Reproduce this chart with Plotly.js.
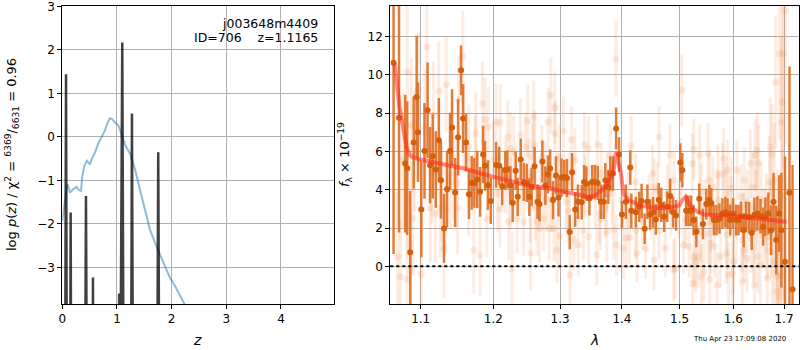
<!DOCTYPE html>
<html>
<head>
<meta charset="utf-8">
<script src="https://cdn.plot.ly/plotly-3.0.1.min.js"></script>
<style>html,body{margin:0;padding:0;background:#fff;}#chart{width:800px;height:350px;}</style>
</head>
<body>
<div id="chart"></div>
<script>
// ---- left panel: p(z) ----
const zGrid = [0.000,0.045,0.068,0.090,0.135,0.153,0.170,0.405,0.433,0.460,0.545,0.561,0.577,1.020,1.040,1.062,1.097,1.130,1.250,1.274,1.300,1.725,1.755,1.785,4.970];
const logpFit = [-9,-9,1.44,-9,-9,-1.74,-9,-9,-1.36,-9,-9,-3.23,-9,-9,-3.6,-6,2.17,-9,-9,0.54,-9,-9,-0.35,-9,-9];
const zPrior = [0.000,0.037,0.080,0.099,0.141,0.201,0.263,0.305,0.342,0.366,0.402,0.452,0.506,0.537,0.598,0.658,0.720,0.781,0.829,0.872,0.914,0.963,1.024,1.086,1.159,1.238,1.329,1.420,1.512,1.603,1.695,1.786,1.877,1.969,2.060,2.150,2.225,2.300];
const logpPrior = [-1.94,-1.51,-1.17,-1.09,-1.28,-1.20,-1.15,-1.22,-1.24,-0.90,-0.67,-0.55,-0.63,-0.51,-0.36,-0.15,-0.01,0.15,0.33,0.43,0.41,0.33,0.27,0.06,-0.21,-0.38,-0.74,-1.21,-1.70,-2.13,-2.43,-2.70,-3.01,-3.24,-3.42,-3.62,-3.82,-4.05];
const zTicks = [0,1,2,3,4];
const logpTicks = [-3,-2,-1,0,1,2,3];

// ---- right panel: spectrum ----
const solidLam = [1.0648,1.0718,1.0797,1.0823,1.0863,1.0908,1.0947,1.0964,1.1008,1.1050,
1.1091,1.1124,1.1160,1.1201,1.1242,1.1270,1.1311,1.1353,1.1394,1.1421,
1.1463,1.1504,1.1545,1.1573,1.1614,1.1655,1.1693,1.1730,1.1771,1.1812,
1.1854,1.1881,1.1923,1.1964,1.2040,1.2085,1.2129,1.2174,1.2203,1.2248,
1.2282,1.2326,1.2356,1.2401,1.2445,1.2490,1.2530,1.2564,1.2608,1.2653,
1.2683,1.2727,1.2772,1.2812,1.2846,1.2890,1.2935,1.2975,1.3021,1.3065,
1.3107,1.3151,1.3188,1.3237,1.3281,1.3341,1.3378,1.3415,1.3464,1.3508,
1.3552,1.3600,1.3649,1.3698,1.3724,1.3773,1.3805,1.3849,1.3902,1.3951,
1.4000,1.4065,1.4140,1.4158,1.4235,1.4293,1.4333,1.4386,1.4433,1.4481,
1.4533,1.4579,1.4631,1.4674,1.4726,1.4779,1.4831,1.4884,1.4937,1.5013,
1.5050,1.5119,1.5161,1.5211,1.5254,1.5305,1.5359,1.5426,1.5489,1.5544,
1.5582,1.5630,1.5680,1.5735,1.5791,1.5846,1.5889,1.5939,1.5994,1.6053,
1.6099,1.6146,1.6197,1.6245,1.6304,1.6355,1.6408,1.6467,1.6527,1.6580,
1.6625,1.6684,1.6738,1.6789,1.6842,1.6901,1.6947,1.7020,1.7112,1.7175];
const solidFlux = [10.64,7.77,5.37,5.13,0.73,6.47,8.85,7.00,2.97,6.03,
8.15,5.28,5.75,5.06,6.59,4.50,1.98,4.03,6.03,7.25,
3.86,6.74,10.24,7.72,6.47,3.77,4.36,4.36,4.54,3.89,
5.84,5.25,4.24,3.41,5.30,5.25,4.19,5.02,5.06,4.24,
3.32,4.99,3.63,5.58,4.41,4.36,3.63,4.15,5.23,3.37,
3.25,5.48,4.22,4.81,5.11,3.46,4.75,3.60,4.64,4.67,
4.61,1.79,4.92,2.97,3.37,3.35,4.40,4.33,3.55,4.40,
4.41,4.36,3.37,3.37,4.50,4.15,4.85,4.85,7.20,5.84,
2.71,3.37,5.16,2.90,2.83,3.11,3.41,1.96,3.37,2.71,
2.82,2.45,3.46,3.21,2.59,3.11,3.67,2.83,2.66,5.43,
5.02,2.90,2.90,2.90,2.42,1.80,3.53,2.21,3.25,3.46,
3.29,2.42,2.42,2.50,2.76,2.83,2.76,2.42,2.76,2.42,
2.42,2.59,1.89,2.59,2.56,1.75,2.69,2.76,2.62,2.07,
2.59,2.76,1.89,3.37,1.37,2.76,1.89,0.24,3.84,-1.20];
const solidErr = [10.0,6.0,3.6,3.5,3.2,2.4,3.2,2.6,2.5,2.5,
2.5,2.0,2.2,2.0,2.2,2.0,1.8,2.0,2.0,2.0,
1.8,2.0,1.3,1.8,1.5,1.3,1.4,1.3,1.5,1.3,
1.5,1.3,1.3,1.2,1.2,1.0,1.0,1.0,1.0,1.0,
1.0,1.0,1.0,1.1,1.0,1.0,1.0,1.0,1.0,0.9,
0.9,1.1,1.0,1.0,1.0,1.0,1.0,1.0,1.0,0.9,
1.0,0.9,1.0,0.9,0.9,0.9,0.9,0.9,0.9,0.9,
0.9,0.9,0.9,0.9,0.9,0.9,0.9,0.9,1.1,0.9,
0.7,0.9,0.9,0.9,0.8,0.8,0.9,0.8,0.9,0.8,
0.8,0.8,0.9,0.9,0.8,0.8,0.9,0.8,0.8,1.0,
0.9,0.8,0.8,0.8,0.8,0.8,0.8,0.8,0.8,0.8,
0.8,0.8,0.8,0.8,0.8,0.8,0.8,0.8,0.8,0.8,
0.8,0.8,0.9,0.8,0.8,0.9,0.9,0.9,0.9,1.0,
1.0,1.1,1.3,1.5,1.8,2.0,3.0,5.5,6.6,6.5];

const faintLam = [1.0700,1.0736,1.0766,1.0822,1.0823,1.0832,1.0868,1.0876,1.0898,1.0921,
1.0971,1.1008,1.1055,1.1080,1.1128,1.1146,1.1169,1.1193,1.1241,1.1262,
1.1284,1.1311,1.1335,1.1341,1.1399,1.1445,1.1490,1.1496,1.1511,1.1569,
1.1582,1.1651,1.1648,1.1723,1.1744,1.1752,1.1810,1.1844,1.1881,1.1909,
1.1927,1.2000,1.2040,1.2059,1.2099,1.2095,1.2174,1.2208,1.2223,1.2248,
1.2252,1.2273,1.2297,1.2347,1.2396,1.2400,1.2445,1.2470,1.2505,1.2519,
1.2545,1.2549,1.2570,1.2594,1.2608,1.2619,1.2644,1.2683,1.2693,1.2718,
1.2742,1.2767,1.2782,1.2816,1.2831,1.2856,1.2867,1.2905,1.2916,1.2920,
1.2950,1.2965,1.2990,1.2993,1.3054,1.3097,1.3123,1.3151,1.3155,1.3179,
1.3216,1.3232,1.3286,1.3367,1.3383,1.3394,1.3448,1.3452,1.3562,1.3584,
1.3594,1.3626,1.3643,1.3654,1.3724,1.3747,1.3751,1.3805,1.3833,1.3860,
1.3898,1.3909,1.3995,1.4025,1.4077,1.4112,1.4130,1.4156,1.4228,1.4232,
1.4253,1.4346,1.4403,1.4463,1.4521,1.4547,1.4551,1.4609,1.4635,1.4638,
1.4744,1.4784,1.4828,1.4842,1.4895,1.4902,1.4919,1.4989,1.5019,1.5041,
1.5074,1.5111,1.5174,1.5235,1.5238,1.5259,1.5267,1.5291,1.5333,1.5365,
1.5383,1.5396,1.5399,1.5444,1.5457,1.5519,1.5522,1.5550,1.5553,1.5569,
1.5572,1.5611,1.5643,1.5693,1.5704,1.5707,1.5754,1.5796,1.5815,1.5859,
1.5862,1.5878,1.5889,1.5907,1.5952,1.5955,1.5982,1.6000,1.6047,1.6067,
1.6146,1.6166,1.6169,1.6197,1.6211,1.6214,1.6264,1.6276,1.6329,1.6343,
1.6375,1.6394,1.6408,1.6422,1.6442,1.6461,1.6473,1.6487,1.6527,1.6540,
1.6592,1.6639,1.6659,1.6662,1.6704,1.6724,1.6738,1.6757,1.6760,1.6803,
1.6806,1.6832,1.6856,1.6868,1.6871,1.6911,1.6921,1.6924,1.6947,1.6966,
1.6969,1.6986,1.7031];
const faintFlux = [0.50,-0.54,5.55,-0.67,10.15,3.46,-0.19,7.37,2.50,6.07,
9.24,-0.40,7.28,11.46,3.03,4.85,7.89,2.76,9.15,3.03,
3.76,0.94,3.03,9.49,4.41,4.76,4.36,3.03,8.71,10.97,
7.23,6.24,3.81,0.85,5.72,6.94,0.59,8.50,7.67,2.47,
7.28,5.55,7.54,3.81,7.51,2.99,4.67,6.76,2.33,6.16,
3.81,-0.16,5.98,2.47,6.89,4.41,2.33,6.24,7.60,4.85,
3.03,0.68,5.72,7.80,6.33,3.11,2.33,1.98,3.81,5.69,
2.50,4.85,3.50,7.54,1.98,8.94,3.46,1.98,8.29,6.94,
0.85,4.15,5.72,1.58,7.06,3.37,2.90,4.41,-0.45,6.62,
1.37,5.55,1.11,1.89,6.36,4.15,6.16,1.54,3.63,0.59,
6.36,2.76,2.45,4.85,3.11,1.80,4.41,5.80,3.81,1.93,
10.85,1.11,3.46,0.94,1.46,3.46,1.49,6.30,4.41,1.89,
0.68,2.33,0.94,3.29,4.85,0.33,4.15,3.98,6.76,1.89,
0.94,3.81,5.80,3.11,-0.19,4.50,-0.10,2.94,5.11,9.20,
1.11,2.42,1.02,5.37,-0.89,6.10,0.50,0.24,0.50,5.80,
1.80,3.89,-0.54,-0.28,2.94,5.89,1.72,4.50,-0.68,2.33,
1.20,4.15,1.02,-0.98,4.76,3.46,0.50,4.85,5.63,3.81,
0.68,1.63,5.02,-0.45,4.07,3.11,-0.37,0.24,1.72,5.02,
3.63,1.37,-0.80,2.15,4.50,0.85,0.42,3.37,5.37,1.46,
4.15,1.02,-0.98,5.80,3.11,6.07,0.50,5.40,0.07,3.46,
1.98,2.76,1.54,-0.63,4.41,6.24,1.89,5.86,0.76,4.50,
0.24,9.62,-1.32,1.54,-0.54,11.11,-0.45,-1.59,7.54,8.59,
-1.24,11.11,13.40];
const faintErr = [3.5,3.0,3.5,3.2,3.8,3.0,3.2,3.5,3.0,3.2,
3.0,3.0,3.0,2.6,2.8,2.6,2.8,2.6,2.6,2.6,
2.5,2.6,2.4,2.5,2.4,2.3,2.3,2.4,2.3,2.4,
2.3,2.2,2.2,2.3,2.2,2.2,2.2,2.2,2.2,2.0,
2.1,2.0,2.0,2.0,2.0,2.0,1.9,1.9,2.0,1.9,
1.9,2.0,1.9,1.8,1.9,1.8,1.8,1.8,1.9,1.8,
1.8,1.9,1.8,1.9,1.8,1.7,1.8,1.8,1.7,1.7,
1.7,1.7,1.7,1.8,1.7,2.0,1.7,1.7,1.9,1.7,
1.7,1.6,1.7,1.7,1.8,1.6,1.6,1.6,1.7,1.7,
1.6,1.7,1.6,1.6,1.7,1.6,1.7,1.6,1.6,1.6,
1.6,1.6,1.6,1.6,1.6,1.6,1.6,1.6,1.6,1.6,
2.0,1.6,1.6,1.6,1.6,1.5,1.6,1.6,1.5,1.5,
1.5,1.5,1.6,1.5,1.5,1.6,1.5,1.5,1.6,1.5,
1.5,1.5,1.6,1.5,1.6,1.5,1.6,1.5,1.6,1.9,
1.5,1.5,1.6,1.6,1.7,1.6,1.6,1.6,1.6,1.6,
1.6,1.5,1.7,1.6,1.6,1.6,1.6,1.6,1.7,1.6,
1.6,1.6,1.6,1.7,1.6,1.6,1.6,1.6,1.6,1.6,
1.6,1.6,1.6,1.7,1.6,1.6,1.7,1.7,1.6,1.6,
1.7,1.7,1.8,1.7,1.7,1.7,1.8,1.7,1.8,1.8,
1.8,1.8,1.9,1.9,1.9,2.0,1.9,2.0,2.0,2.0,
2.1,2.1,2.2,2.3,2.4,2.6,2.5,2.6,2.7,3.0,
3.0,3.5,3.5,3.5,3.6,4.5,4.0,4.0,4.5,5.0,
5.0,6.0,7.0];

const modelLam = [1.0661,1.0680,1.0725,1.0769,1.0813,1.0858,1.0900,1.0990,1.1270,1.1590,1.1820,1.2000,1.2250,1.2550,1.2850,1.3140,1.3270,1.3460,1.3560,1.3700,1.3810,1.3860,1.3902,1.3940,1.3984,1.4023,1.4110,1.4340,1.4637,1.4900,1.5000,1.5050,1.5113,1.5205,1.5329,1.5450,1.5880,1.6260,1.6625,1.7055];
const modelFlux = [10.6,9.9,8.3,7.3,6.25,5.8,5.7,5.58,5.37,5.11,4.85,4.67,4.45,4.2,4.07,3.84,3.75,3.63,3.72,4.07,4.6,5.0,5.98,5.5,4.85,3.8,3.46,3.15,3.03,3.11,3.2,3.46,3.63,3.1,2.85,2.71,2.66,2.56,2.45,2.33];

const lamTicks = [1.1,1.2,1.3,1.4,1.5,1.6,1.7];
const lamTickText = ['1.1','1.2','1.3','1.4','1.5','1.6','1.7'];
const fluxTicks = [0,2,4,6,8,10,12];

const FONT = 'DejaVu Sans, Liberation Sans, sans-serif';

const traces = [
  {x: zPrior, y: logpPrior, xaxis:'x', yaxis:'y', mode:'lines', type:'scatter',
   line:{color:'rgba(31,119,180,0.5)', width:2}, hoverinfo:'skip'},
  {x: zGrid, y: logpFit, xaxis:'x', yaxis:'y', mode:'lines', type:'scatter',
   line:{color:'rgba(0,0,0,0.75)', width:2.5}, hoverinfo:'skip'},
  {x: faintLam, y: faintFlux, xaxis:'x2', yaxis:'y2', mode:'markers', type:'scatter',
   marker:{size:7, color:'rgba(232,125,55,0.15)', line:{width:0}},
   error_y:{type:'data', array: faintErr, visible:true, color:'rgba(232,125,55,0.15)', thickness:3, width:0},
   hoverinfo:'skip'},
  {x: solidLam, y: solidFlux, xaxis:'x2', yaxis:'y2', mode:'markers', type:'scatter',
   marker:{size:6, color:'#d45f0c', line:{width:0}},
   error_y:{type:'data', array: solidErr, visible:true, color:'rgba(222,110,35,0.9)', thickness:2.5, width:0},
   hoverinfo:'skip'},
  {x: modelLam, y: modelFlux, xaxis:'x2', yaxis:'y2', mode:'lines', type:'scatter',
   line:{color:'rgba(255,40,25,0.55)', width:4}, hoverinfo:'skip'}
];

const axCommon = {
  showgrid:true, gridcolor:'#b0b0b0', gridwidth:1, zeroline:false,
  showline:true, mirror:true, linecolor:'#000', linewidth:1,
  ticks:'outside', ticklen:4, tickwidth:1, tickcolor:'#000',
  tickfont:{family:FONT, size:12, color:'#000'}, automargin:false,
  ticklabeloverflow:'allow'
};
const yDom = [1-304/350, 1-5.5/350];

const layout = {
  width:800, height:350,
  margin:{l:0, r:0, t:0, b:0},
  paper_bgcolor:'#fff', plot_bgcolor:'#fff',
  showlegend:false,
  xaxis: Object.assign({}, axCommon, {domain:[62.3/800, 334/800], range:[0,4.97], tickvals:zTicks, anchor:'y'}),
  yaxis: Object.assign({}, axCommon, {domain:yDom, range:[-3.84,3.02], tickvals:logpTicks, anchor:'x'}),
  xaxis2: Object.assign({}, axCommon, {domain:[390.3/800, 798.7/800], type:'log', range:[0.02557,0.2381], tickvals:lamTicks, ticktext:lamTickText, anchor:'y2'}),
  yaxis2: Object.assign({}, axCommon, {domain:yDom, range:[-1.97,13.63], tickvals:fluxTicks, anchor:'x2'}),
  shapes:[
    {type:'line', xref:'x2 domain', yref:'y2', x0:0, x1:1, y0:0, y1:0,
     line:{color:'#000', width:2, dash:'dot'}}
  ],
  annotations:[
    {xref:'paper', yref:'paper', x:320/800, y:1-23/350, xanchor:'right', yanchor:'middle',
     text:'j003648m4409', showarrow:false, font:{family:FONT, size:12.5, color:'#000'}},
    {xref:'paper', yref:'paper', x:320/800, y:1-38/350, xanchor:'right', yanchor:'middle',
     text:'ID=706\u00a0\u00a0\u00a0\u00a0z=1.1165', showarrow:false, font:{family:FONT, size:12.5, color:'#000'}},
    {xref:'paper', yref:'paper', x:12/800, y:1-155/350, xanchor:'center', yanchor:'middle', textangle:-90,
     text:'log <i>p</i>(<i>z</i>) / χ<sup>2</sup> = <sup>6369</sup>/<sub>6631</sub> = 0.96', showarrow:false,
     font:{family:FONT, size:13, color:'#000'}},
    {xref:'paper', yref:'paper', x:197/800, y:1-340/350, xanchor:'center', yanchor:'middle',
     text:'<i>z</i>', showarrow:false, font:{family:FONT, size:14, color:'#000'}},
    {xref:'paper', yref:'paper', x:345/800, y:1-155/350, xanchor:'center', yanchor:'middle', textangle:-90,
     text:'<i>f</i><sub>λ</sub> × 10<sup>−19</sup>', showarrow:false, font:{family:FONT, size:13, color:'#000'}},
    {xref:'paper', yref:'paper', x:594/800, y:1-340/350, xanchor:'center', yanchor:'middle',
     text:'<i>λ</i>', showarrow:false, font:{family:FONT, size:14, color:'#000'}},
    {xref:'paper', yref:'paper', x:788/800, y:1-339/350, xanchor:'right', yanchor:'middle',
     text:'Thu Apr 23 17:09:08 2020', showarrow:false, font:{family:FONT, size:7, color:'#000'}}
  ]
};

Plotly.newPlot('chart', traces, layout, {staticPlot:true, displayModeBar:false});
</script>
</body>
</html>
